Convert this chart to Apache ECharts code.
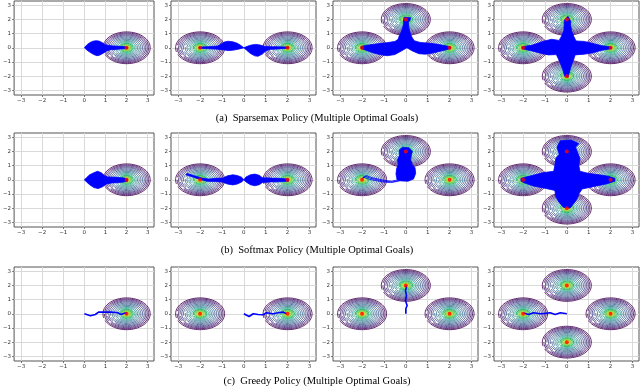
<!DOCTYPE html>
<html>
<head>
<meta charset="utf-8">
<script src="https://cdn.jsdelivr.net/npm/echarts@6/dist/echarts.min.js"></script>
<style>
html, body { margin: 0; padding: 0; background: #fff; }
#main { width: 640px; height: 389px; }
</style>
</head>
<body>
<div id="main"></div>
<script>
// tick values and axis range
var ticks = [-3, -2, -1, 0, 1, 2, 3]
var axisMin = -3.33
var axisMax = 3.3

// goals of each column (1, 2, 3, 4 optimal goals)
var goals1 = [[2, 0]]
var goals2 = [[-2, 0], [2, 0]]
var goals3 = [[-2, 0], [0, 2], [2, 0]]
var goals4 = [[-2, 0], [0, 2], [2, 0], [0, -2]]

// contour levels round each goal (outer -> inner)
var ringRadii = [1.12, 1.05, 0.98, 0.91, 0.84, 0.76, 0.68, 0.60, 0.52, 0.45, 0.38, 0.31, 0.25, 0.19, 0.14, 0.09, 0.05]
var ringColors = ['#440154', '#471365', '#482475', '#463480', '#414487', '#3b528b', '#355f8d',
    '#2f6c8e', '#2a788e', '#21918c', '#1fa187', '#35b779', '#54c568', '#7ad151', '#a5db36', '#d2e21b', '#fde725']
// angle (deg, screen) where matplotlib broke the line for its inline label
var ringGaps = [160, 185, 145, 175, 135, 165, 190, 150, 180, 140, 170, 155, 0, 0, 0, 0, 0]

var captions = [
    '(a)  Sparsemax Policy (Multiple Optimal Goals)',
    '(b)  Softmax Policy (Multiple Optimal Goals)',
    '(c)  Greedy Policy (Multiple Optimal Goals)'
]

// sparsemax trajectories (outlines of the bundles)
var sparseBands1 = [
    [[0, 0], [0.1, 0.18], [0.25, 0.36], [0.4, 0.46], [0.55, 0.5], [0.7, 0.47], [0.85, 0.36], [1.0, 0.22],
     [1.15, 0.16], [1.4, 0.13], [1.7, 0.1], [1.95, 0.08], [2.05, 0.03], [2.05, -0.05], [1.8, -0.08],
     [1.5, -0.11], [1.2, -0.15], [1.05, -0.22], [0.9, -0.38], [0.72, -0.52], [0.6, -0.56], [0.45, -0.48],
     [0.3, -0.35], [0.12, -0.16]]
]
var sparseBands2 = [
    [[0, 0], [-0.12, 0.15], [-0.3, 0.32], [-0.5, 0.42], [-0.72, 0.46], [-0.9, 0.4], [-1.05, 0.25],
     [-1.2, 0.12], [-1.6, 0.08], [-2.05, 0.05], [-2.05, -0.04], [-1.6, -0.07], [-1.3, -0.09], [-1.0, -0.13],
     [-0.7, -0.2], [-0.45, -0.16], [-0.2, -0.08]],
    [[0, 0], [0.15, 0.1], [0.35, 0.2], [0.55, 0.24], [0.75, 0.19], [0.95, 0.11], [1.2, 0.08], [1.6, 0.07],
     [2.05, 0.05], [2.05, -0.04], [1.6, -0.08], [1.2, -0.11], [1.0, -0.22], [0.85, -0.44], [0.65, -0.6],
     [0.5, -0.57], [0.3, -0.4], [0.12, -0.16]]
]
var sparseBands3 = [
    [[-2.05, 0.1], [-1.7, 0.2], [-1.3, 0.28], [-0.9, 0.35], [-0.5, 0.45], [-0.35, 0.6], [-0.3, 0.85],
     [-0.22, 1.1], [-0.15, 1.4], [-0.1, 1.7], [-0.08, 1.95], [0.08, 2.08], [0.12, 1.75], [0.14, 1.4],
     [0.2, 1.05], [0.28, 0.75], [0.38, 0.5], [0.65, 0.38], [1.0, 0.33], [1.4, 0.26], [1.75, 0.16],
     [2.05, 0.07], [2.05, -0.06], [1.7, -0.2], [1.3, -0.35], [0.9, -0.45], [0.6, -0.42], [0.3, -0.22],
     [0.05, 0.0], [-0.2, -0.22], [-0.5, -0.48], [-0.85, -0.56], [-1.2, -0.48], [-1.55, -0.34],
     [-1.85, -0.16], [-2.05, -0.06]],
    [[-0.12, 1.82], [0.18, 1.88], [0.22, 2.12], [-0.08, 2.16]]
]
var sparseBands4 = [
    [[-2.05, 0.08], [-1.6, 0.18], [-1.1, 0.45], [-0.7, 0.6], [-0.35, 0.52], [-0.25, 0.8], [-0.14, 1.2],
     [-0.12, 1.6], [-0.12, 1.95], [0.05, 2.22], [0.17, 1.9], [0.17, 1.6], [0.22, 1.2], [0.32, 0.8],
     [0.42, 0.48], [0.8, 0.45], [1.2, 0.3], [1.6, 0.15], [2.05, 0.06], [2.05, -0.06], [1.6, -0.18],
     [1.2, -0.35], [0.8, -0.45], [0.38, -0.5], [0.32, -0.8], [0.22, -1.2], [0.14, -1.6], [0.06, -2.08],
     [-0.1, -2.02], [-0.17, -1.6], [-0.27, -1.2], [-0.38, -0.8], [-0.48, -0.48], [-0.85, -0.5],
     [-1.2, -0.38], [-1.6, -0.22], [-2.05, -0.07]]
]

// softmax trajectories
var softBands1 = [
    [[0, 0], [0.1, 0.15], [0.25, 0.35], [0.45, 0.5], [0.62, 0.6], [0.8, 0.5], [0.95, 0.3], [1.1, 0.2],
     [1.5, 0.18], [1.9, 0.12], [2.05, 0.05], [2.05, -0.1], [1.7, -0.2], [1.3, -0.22], [1.05, -0.3],
     [0.85, -0.5], [0.65, -0.62], [0.45, -0.55], [0.25, -0.35], [0.1, -0.15]]
]
var softBands2 = [
    [[0, 0], [0.1, 0.2], [0.3, 0.35], [0.5, 0.4], [0.7, 0.32], [0.85, 0.15], [1.2, 0.12], [1.6, 0.1],
     [2.05, 0.06], [2.05, -0.1], [1.6, -0.14], [1.2, -0.15], [0.85, -0.2], [0.7, -0.35], [0.5, -0.42],
     [0.3, -0.35], [0.1, -0.15]],
    [[0, 0], [-0.1, 0.18], [-0.3, 0.3], [-0.5, 0.35], [-0.75, 0.28], [-0.95, 0.12], [-1.3, 0.1],
     [-1.6, 0.05], [-1.9, 0.12], [-2.3, 0.3], [-2.6, 0.45], [-2.65, 0.35], [-2.3, 0.18], [-2.0, 0.02],
     [-1.7, -0.1], [-1.3, -0.12], [-1.0, -0.15], [-0.75, -0.3], [-0.5, -0.36], [-0.3, -0.3], [-0.1, -0.15]]
]
var softBands3 = [
    [[-0.4, 0.0], [-0.45, 0.4], [-0.42, 0.8], [-0.35, 1.05], [-0.38, 1.4], [-0.3, 1.7], [-0.3, 2.1],
     [-0.15, 2.3], [0.15, 2.25], [0.3, 2.0], [0.25, 1.75], [0.22, 1.4], [0.3, 1.05], [0.42, 0.85],
     [0.45, 0.45], [0.35, 0.05], [0.1, -0.1], [-0.2, -0.08]]
]
var softLines3 = [
    [[0, 0.05], [-0.3, -0.05], [-0.6, -0.15], [-1.0, -0.1], [-1.3, 0.0], [-1.6, 0.1], [-1.85, 0.25], [-2.0, 0.05]],
    [[0, 0.1], [-0.35, 0.0], [-0.65, -0.1], [-0.95, -0.05], [-1.25, 0.05], [-1.55, 0.15], [-1.8, 0.3], [-2.0, 0.1]],
    [[-0.1, 0.0], [-0.4, -0.12], [-0.7, -0.2], [-1.05, -0.15], [-1.4, -0.05], [-1.7, 0.05], [-1.95, 0.2]]
]
var softBands4 = [
    [[-2.1, 0.1], [-1.6, 0.3], [-1.1, 0.5], [-0.6, 0.6], [-0.55, 1.0], [-0.5, 1.5], [-0.35, 1.8],
     [-0.45, 2.3], [-0.3, 2.75], [0.2, 2.8], [0.55, 2.55], [0.4, 2.3], [0.5, 1.9], [0.6, 1.5], [0.55, 1.0],
     [0.6, 0.6], [1.0, 0.45], [1.5, 0.35], [1.9, 0.25], [2.2, 0.1], [2.2, -0.1], [1.8, -0.3],
     [1.3, -0.45], [0.7, -0.65], [0.55, -1.0], [0.45, -1.4], [0.3, -1.7], [0.15, -2.0], [-0.15, -1.95],
     [-0.35, -1.6], [-0.5, -1.2], [-0.55, -0.75], [-1.0, -0.6], [-1.5, -0.45], [-1.9, -0.25], [-2.1, -0.1]]
]

// greedy trajectories (single path each)
var greedyPath1 = [[0, 0], [0.29, -0.14], [0.52, -0.05], [0.67, 0.12], [1.0, 0.12], [1.28, 0.12],
    [1.58, 0.07], [1.73, -0.05], [1.96, 0.07], [2.02, 0]]
var greedyPath2 = [[0, 0], [0.24, -0.19], [0.43, 0], [0.65, -0.05], [0.88, -0.07], [1.03, 0.07],
    [1.34, 0], [1.57, 0.07], [1.8, 0.12], [1.95, 0]]
var greedyPath3 = [[0, 0], [0, 0.35], [0.06, 0.59], [-0.02, 0.94], [0.03, 1.29], [-0.02, 1.65],
    [0.03, 1.85], [0, 2.0]]
var greedyPath4 = [[0, 0], [-0.3, 0.07], [-0.53, -0.05], [-0.76, 0.07], [-1.0, 0.03], [-1.22, 0],
    [-1.52, 0.07], [-1.75, -0.05], [-1.98, 0.05]]

var colGoals = [goals1, goals2, goals3, goals4]
var rowBands = [
    [sparseBands1, sparseBands2, sparseBands3, sparseBands4],
    [softBands1, softBands2, softBands3, softBands4],
    [[], [], [], []]
]
var rowLines = [
    [[], [], [], []],
    [[], [], softLines3, []],
    [[greedyPath1], [greedyPath2], [greedyPath3], [greedyPath4]]
]

// layout
var colLeft = [9, 171, 333, 494]
var rowTop = [1, 133, 267]
var plotW = 145
var plotH = 94
var captionY = [118, 250, 381]

var chart = echarts.init(document.getElementById('main'))

function fmt(v) {
    return v < 0 ? '\u2212' + (-v) : String(v)
}

function ringItem(params, api) {
    var c = api.coord([api.value(0), api.value(1)])
    var s = api.size([api.value(2), api.value(2)])
    var k = api.value(3)
    var gap = ringGaps[k] / 180 * Math.PI
    var half = ringGaps[k] ? 0.09 : 0
    var pts = []
    for (var j = 0; j <= 72; j++) {
        var a = gap + half + j / 72 * (Math.PI * 2 - 2 * half)
        pts.push([c[0] + s[0] * Math.cos(a), c[1] + s[1] * Math.sin(a)])
    }
    return {
        type: 'polyline',
        shape: { points: pts },
        style: { stroke: ringColors[k], fill: null, lineWidth: k > 10 ? 1.1 : 0.85 }
    }
}

function bandRender(polys) {
    return function (params, api) {
        var pts = polys[api.value(2)].map(function (p) { return api.coord(p) })
        return {
            type: 'polygon',
            shape: { points: pts },
            style: { fill: '#0000ff', stroke: '#0000ff', lineWidth: 0.8 }
        }
    }
}

var grid = [], xAxis = [], yAxis = [], series = [], graphic = []

for (var r = 0; r < 3; r++) {
    for (var c = 0; c < 4; c++) {
        var i = r * 4 + c
        grid.push({
            left: colLeft[c], top: rowTop[r], width: plotW, height: plotH,
            show: true, borderColor: '#555', borderWidth: 1, backgroundColor: 'transparent'
        })
        var axisBase = {
            type: 'value', gridIndex: i, min: axisMin, max: axisMax,
            axisLine: { show: false, onZero: false },
            axisTick: { show: true, length: 2, customValues: ticks, lineStyle: { color: '#555', width: 0.8 } },
            axisLabel: {
                customValues: ticks, formatter: fmt, fontSize: 5.5, color: '#333',
                fontFamily: 'DejaVu Sans', margin: 3
            },
            splitLine: { show: true, lineStyle: { color: '#d9d9d9', width: 1 } }
        }
        xAxis.push(Object.assign({}, axisBase))
        yAxis.push(Object.assign({}, axisBase))

        var ringData = []
        colGoals[c].forEach(function (g) {
            ringRadii.forEach(function (rad, k) {
                ringData.push([g[0], g[1], rad, k])
            })
        })
        series.push({
            type: 'custom', xAxisIndex: i, yAxisIndex: i, clip: true, z: 2,
            renderItem: ringItem, data: ringData, silent: true
        })

        var bands = rowBands[r][c]
        if (bands.length) {
            series.push({
                type: 'custom', xAxisIndex: i, yAxisIndex: i, clip: true, z: 3,
                renderItem: bandRender(bands),
                data: bands.map(function (p, k) { return [p[0][0], p[0][1], k] }),
                silent: true
            })
        }
        rowLines[r][c].forEach(function (path) {
            series.push({
                type: 'line', xAxisIndex: i, yAxisIndex: i, z: 4, data: path,
                showSymbol: false, silent: true, animation: false,
                lineStyle: { color: '#0000ff', width: r === 2 ? 1.6 : 0.8 }
            })
        })
        series.push({
            type: 'scatter', xAxisIndex: i, yAxisIndex: i, z: 5, data: colGoals[c],
            symbolSize: 4, itemStyle: { color: '#ff0000' }, silent: true
        })
    }
    graphic.push({
        type: 'text', x: 317, y: captionY[r],
        style: {
            text: captions[r], fill: '#000',
            font: '10.5px "Liberation Serif"',
            align: 'center', verticalAlign: 'middle'
        }
    })
}

chart.setOption({
    animation: false,
    grid: grid,
    xAxis: xAxis,
    yAxis: yAxis,
    series: series,
    graphic: graphic
})
</script>
</body>
</html>
